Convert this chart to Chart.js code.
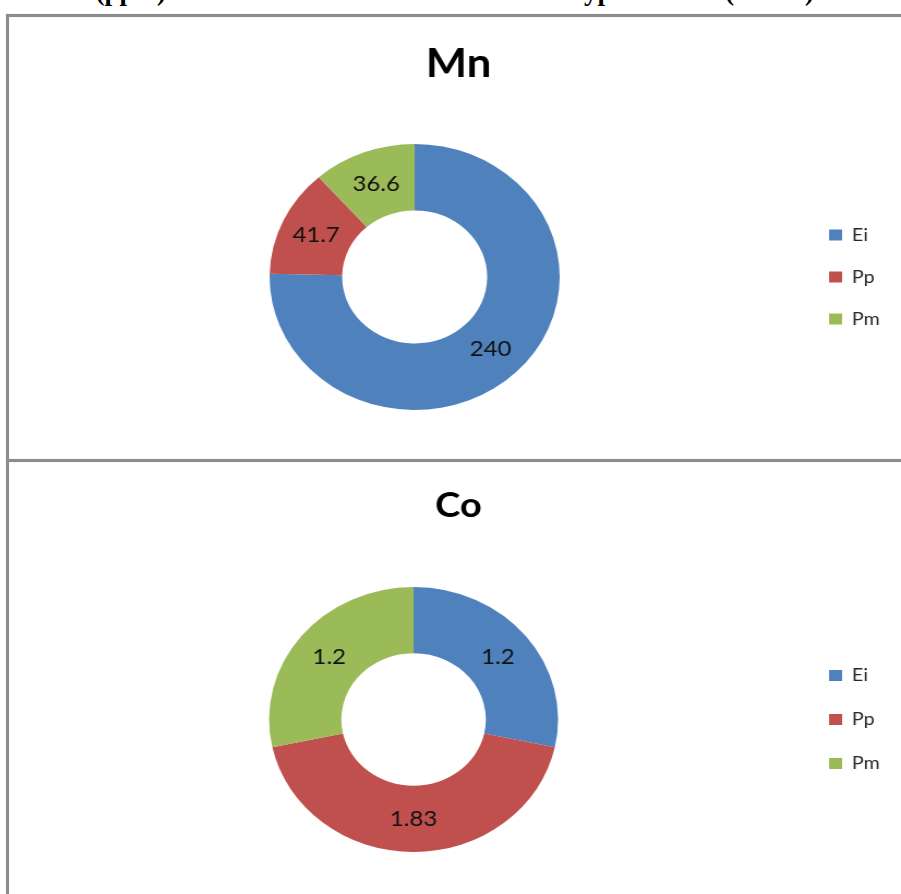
<!DOCTYPE html>
<html>
<head>
<meta charset="utf-8">
<script src="https://cdn.jsdelivr.net/npm/chart.js@4.4.1/dist/chart.umd.min.js"></script>
<style>
  html, body { margin: 0; padding: 0; background: #fff; width: 901px; height: 894px; overflow: hidden; position: relative; }
  .caption { position: absolute; top: -22px; font: bold 27px "Liberation Serif", serif; line-height: 27px; white-space: nowrap; color: #000; }
  .rule { position: absolute; background: #8c8c8c; box-shadow: 0 0 1px #b5b5b5; }
  .panel { position: absolute; left: 9px; transform-origin: 0 0; transform: scaleX(1.0904); }
  .panel canvas { display: block; }
</style>
</head>
<body>
  <div class="caption" style="right:735px">Concentrations (ppm)</div>
  <div class="caption" style="right:266px">of Mn and Co in the three soil types</div>
  <div class="caption" style="left:725px">(n = 10)</div>

  <div class="rule" style="left:6px; top:14px; width:895px; height:3px"></div>
  <div class="rule" style="left:6px; top:14px; width:3px; height:880px"></div>
  <div class="rule" style="left:6px; top:459px; width:895px; height:3px"></div>

  <div class="panel" style="top:17px"><canvas id="mnChart" width="819" height="442"></canvas></div>
  <div class="panel" style="top:462px"><canvas id="coChart" width="819" height="432"></canvas></div>

<script>
// Soil types and metal contents (ppm)
const categories = ['Ei', 'Pp', 'Pm'];
const mnValues = [240, 41.7, 36.6];
const coValues = [1.2, 1.83, 1.2];
const sliceColors = ['#4F81BD', '#C0504D', '#9BBB59'];

// Writes each slice's value in the middle of its ring segment
const valueLabels = {
  id: 'valueLabels',
  afterDatasetsDraw(chart) {
    const { ctx } = chart;
    const meta = chart.getDatasetMeta(0);
    const data = chart.data.datasets[0].data;
    ctx.save();
    ctx.font = '22px Lato';
    ctx.fillStyle = '#111';
    ctx.textAlign = 'center';
    ctx.textBaseline = 'middle';
    meta.data.forEach((arc, i) => {
      const p = arc.tooltipPosition();
      ctx.fillText(String(data[i]), p.x, p.y);
    });
    ctx.restore();
  }
};

function makeDonut(canvasId, title, values, o) {
  return new Chart(document.getElementById(canvasId), {
    type: 'doughnut',
    data: {
      labels: categories,
      datasets: [{ data: values, backgroundColor: sliceColors, borderWidth: 0 }]
    },
    options: {
      responsive: false,
      animation: false,
      radius: o.radius,
      cutout: '50%',
      layout: { padding: { left: 16, right: 10.5, top: 0, bottom: o.padBottom } },
      plugins: {
        title: {
          display: true,
          text: title,
          color: '#000',
          font: { family: 'Lato', weight: 'bold', size: o.titleSize },
          padding: { top: o.titleTop, bottom: o.titleBottom }
        },
        legend: {
          position: 'right',
          fullSize: false,
          labels: {
            boxWidth: 12,
            boxHeight: 11,
            padding: o.legendGap,
            color: '#262626',
            font: { family: 'Lato', size: 18 }
          }
        },
        tooltip: { enabled: false }
      }
    },
    plugins: [valueLabels]
  });
}

makeDonut('mnChart', 'Mn', mnValues, { radius: 133, padBottom: 49, titleSize: 40, titleTop: 23, titleBottom: 56, legendGap: 24 });
makeDonut('coChart', 'Co', coValues, { radius: 132.5, padBottom: 42, titleSize: 35, titleTop: 23, titleBottom: 60, legendGap: 26 });
</script>
</body>
</html>
